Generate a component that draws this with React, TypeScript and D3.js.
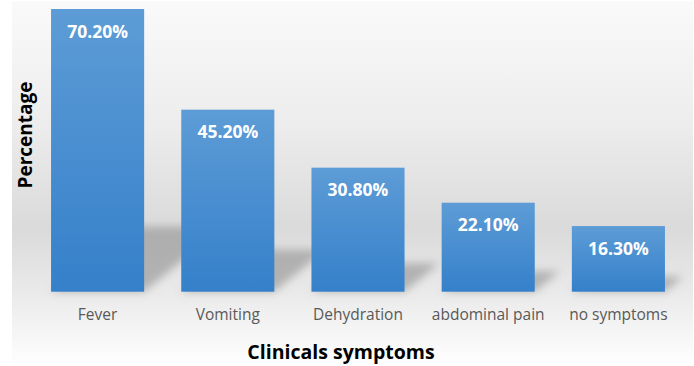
import React from "react";
import * as d3 from "d3";

const categories = ["Fever", "Vomiting", "Dehydration", "abdominal pain", "no symptoms"];
const values = [70.2, 45.2, 30.8, 22.1, 16.3];
const valueLabels = ["70.20%", "45.20%", "30.80%", "22.10%", "16.30%"];
const xTitle = "Clinicals symptoms";
const yTitle = "Percentage";

const W = 694;
const H = 366;

export default function App() {
  const x = d3
    .scaleBand<string>()
    .domain(categories)
    .range([32.5, 683.5])
    .paddingInner(0.285)
    .paddingOuter(0.1425);
  const y = d3.scaleLinear().domain([0, 70.2]).range([291.7, 9]);
  const base = y(0);

  return (
    <svg width={W} height={H} style={{ display: "block", position: "absolute", left: 0, top: 0 }}>
      <defs>
        <linearGradient id="bg" x1="0" y1="0" x2="0" y2="1">
          <stop offset="0" stopColor="#fafafa" />
          <stop offset="0.35" stopColor="#ececec" />
          <stop offset="0.62" stopColor="#dadada" />
          <stop offset="0.8" stopColor="#eaeaea" />
          <stop offset="1" stopColor="#ffffff" />
        </linearGradient>
        <linearGradient id="bar" x1="0" y1="0" x2="0" y2="1">
          <stop offset="0" stopColor="#5d9cd6" />
          <stop offset="1" stopColor="#3580ca" />
        </linearGradient>
        <filter id="blur" x="-30%" y="-30%" width="160%" height="160%">
          <feGaussianBlur stdDeviation="4" />
        </filter>
      </defs>
      <rect x={0} y={0} width={W} height={H} fill="#ffffff" />
      <rect x={12} y={1} width={W - 13} height={H - 1} fill="url(#bg)" />
      <g filter="url(#blur)">
        {categories.map((c, i) => {
          const x0 = x(c)!;
          const w = x.bandwidth();
          const h = base - y(values[i]);
          const dx = h * 0.28;
          const top = base - h * 0.23;
          const pts = [
            [x0, base],
            [x0 + w, base],
            [x0 + w + dx, top],
            [x0 + dx, top],
          ]
            .map((p) => p.join(","))
            .join(" ");
          return <polygon key={c} points={pts} fill="#8f8f8f" opacity={0.6} />;
        })}
      </g>
      {categories.map((c, i) => (
        <rect
          key={c}
          x={x(c)!}
          y={y(values[i])}
          width={x.bandwidth()}
          height={base - y(values[i])}
          fill="url(#bar)"
        />
      ))}
      {categories.map((c, i) => (
        <text
          key={c}
          x={x(c)! + x.bandwidth() / 2}
          y={y(values[i]) + 28.5}
          textAnchor="middle"
          fontFamily="'Open Sans', sans-serif"
          fontWeight="bold"
          fontSize={17.5}
          fill="#ffffff"
        >
          {valueLabels[i]}
        </text>
      ))}
      {categories.map((c) => (
        <text
          key={c}
          x={x(c)! + x.bandwidth() / 2}
          y={320}
          textAnchor="middle"
          fontFamily="'Open Sans', sans-serif"
          fontSize={15.5}
          fill="#595959"
        >
          {c}
        </text>
      ))}
      <text
        x={341}
        y={359}
        textAnchor="middle"
        fontFamily="'Open Sans', sans-serif"
        fontWeight="bold"
        fontSize={19.5}
        fill="#000000"
      >
        {xTitle}
      </text>
      <text
        transform={`translate(32,135) rotate(-90)`}
        textAnchor="middle"
        fontFamily="'Open Sans', sans-serif"
        fontWeight="bold"
        fontSize={19}
        fill="#000000"
      >
        {yTitle}
      </text>
    </svg>
  );
}
